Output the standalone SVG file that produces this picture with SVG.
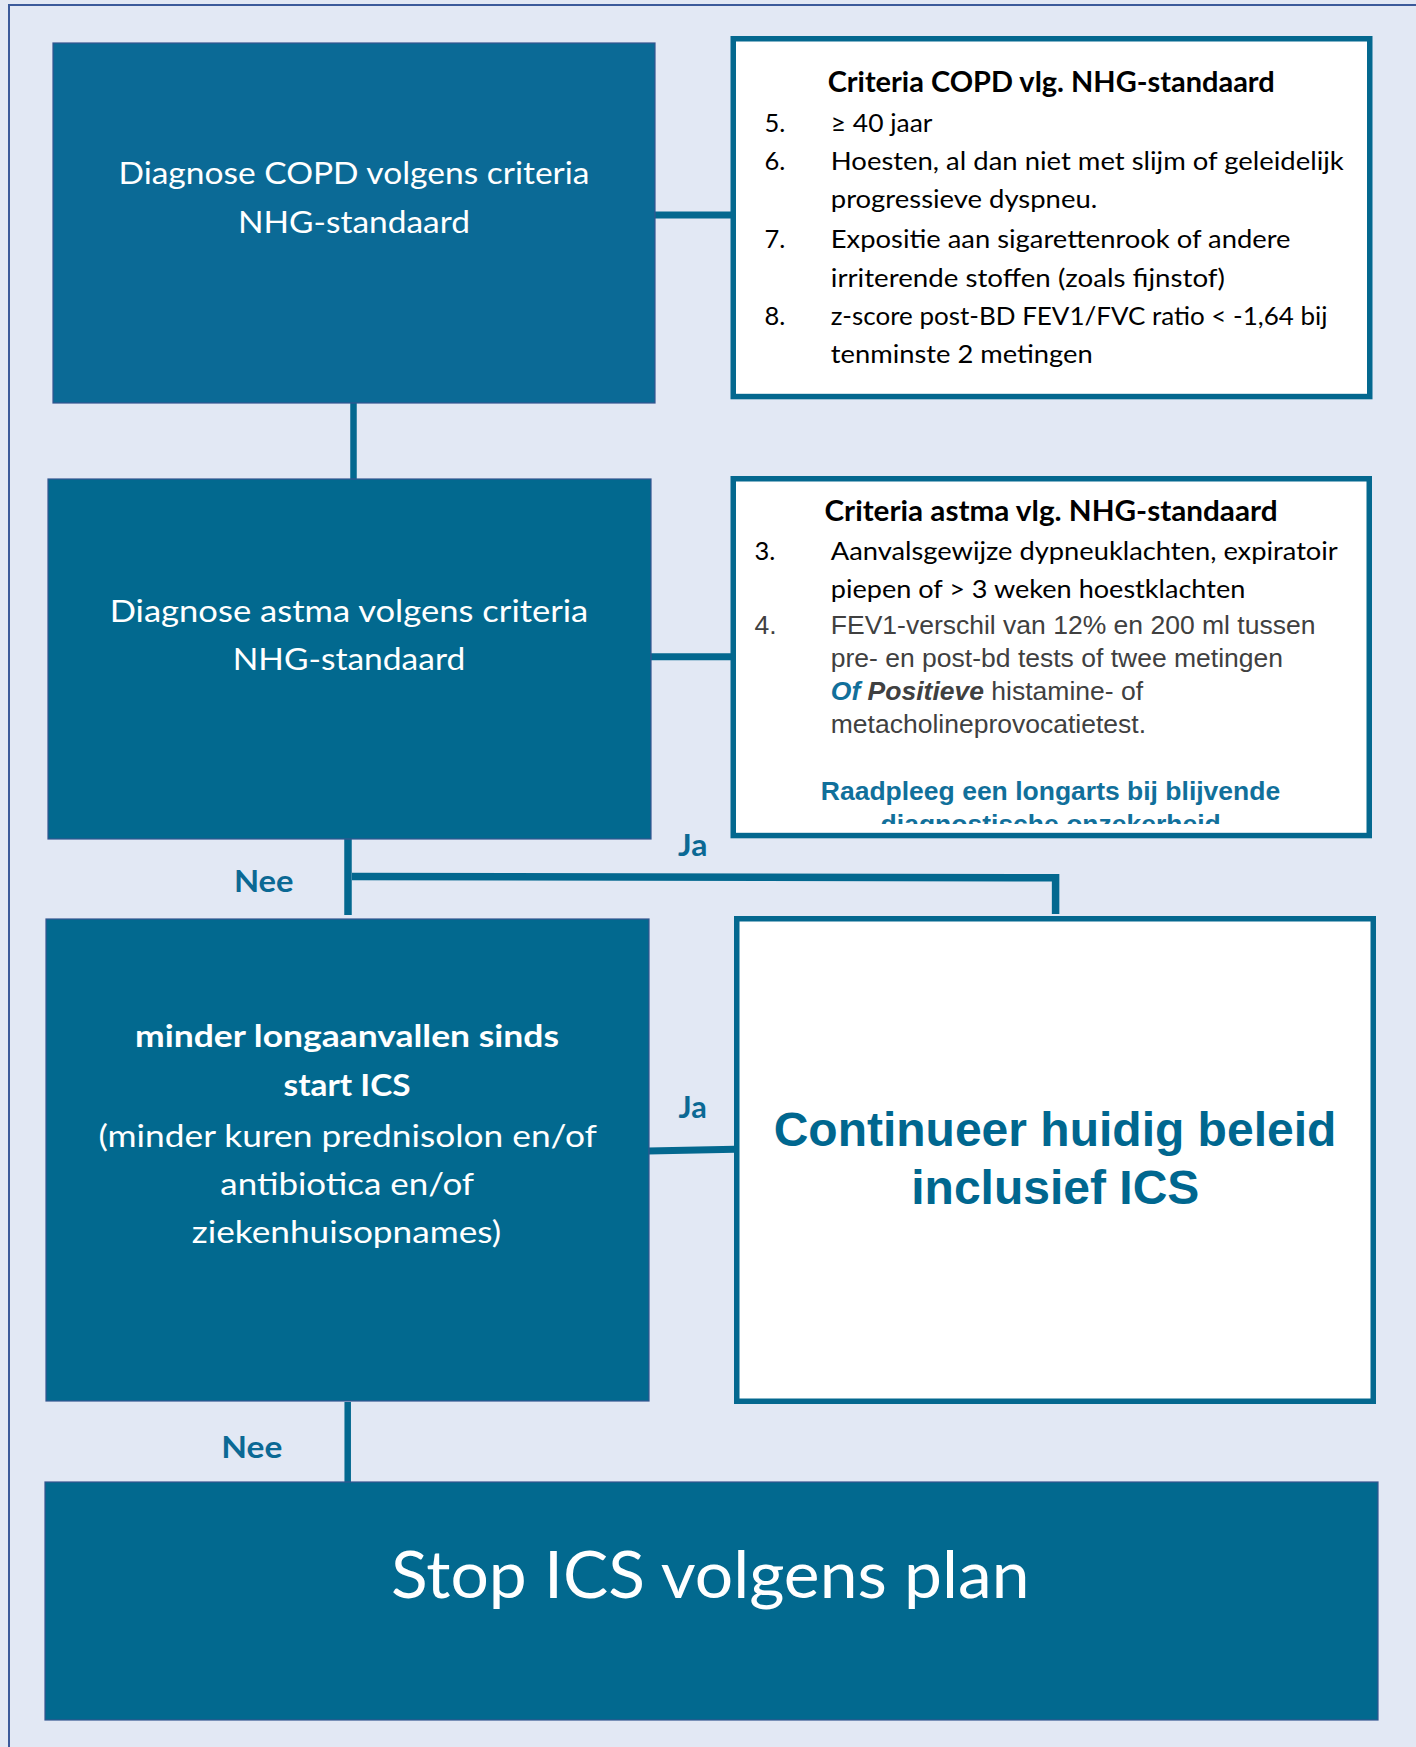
<svg xmlns="http://www.w3.org/2000/svg" width="1416" height="1747" viewBox="0 0 1416 1747">
<style>
.bg{fill:#e2e8f4}
.frame{fill:none;stroke:#3b5a9a;stroke-width:2}
.dark{fill:#02698f;stroke:#34558f;stroke-width:1.2}
.copd{fill:#0b6a96;stroke:#34558f;stroke-width:1.2}
.card{fill:#ffffff;stroke:#04688f;stroke-width:5.5}
.conn{fill:none;stroke:#03688f;stroke-linecap:butt;stroke-linejoin:miter}
.wt{font-family:Lato,"Open Sans","DejaVu Sans",sans-serif;font-size:30px;fill:#ffffff}
.wtb{font-family:Lato,"Open Sans","DejaVu Sans",sans-serif;font-size:30px;font-weight:bold;fill:#ffffff}
.ttl{font-family:Lato,"Open Sans","DejaVu Sans",sans-serif;font-size:28px;font-weight:bold;fill:#000000}
.itm{font-family:Lato,"Open Sans","DejaVu Sans",sans-serif;font-size:25.5px;fill:#000000}
.ar{font-family:"Liberation Sans",Arial,sans-serif;font-size:26.5px;fill:#404040}
.arb{font-family:"Liberation Sans",Arial,sans-serif;font-size:26.5px;font-weight:bold;fill:#11709b}
.lbl{font-family:Lato,"Open Sans","DejaVu Sans",sans-serif;font-size:30px;font-weight:bold;fill:#0b6994}
.big{font-family:"Liberation Sans",Arial,sans-serif;font-size:48px;font-weight:bold;fill:#00678f}
.stop{font-family:Lato,"Open Sans","DejaVu Sans",sans-serif;font-size:65px;fill:#ffffff}
</style>
<defs>
<clipPath id="clipLast"><rect x="736" y="770" width="630" height="54"/></clipPath>
</defs>
<rect class="bg" x="0" y="0" width="1416" height="1747"/>
<path class="frame" d="M9,1747 V5 H1416"/>

<g id="connectors">
<line class="conn" x1="654" y1="215" x2="732" y2="215" stroke-width="7"/>
<line class="conn" x1="353.5" y1="402" x2="353.5" y2="480" stroke-width="6.5"/>
<line class="conn" x1="650" y1="656.7" x2="732" y2="656.7" stroke-width="7"/>
<line class="conn" x1="348" y1="838" x2="348" y2="915" stroke-width="7.5"/>
<path class="conn" d="M352,876.5 L1055.6,877.8 L1055.6,914" stroke-width="7.5"/>
<line class="conn" x1="648" y1="1151" x2="735" y2="1149.3" stroke-width="7"/>
<line class="conn" x1="347.7" y1="1402" x2="347.7" y2="1483" stroke-width="6.5"/>
</g>

<g id="node-copd">
<rect class="copd" x="53" y="43" width="602" height="360"/>
<text class="wt" x="354" y="184" text-anchor="middle" textLength="471" lengthAdjust="spacingAndGlyphs">Diagnose COPD volgens criteria</text>
<text class="wt" x="354" y="233" text-anchor="middle" textLength="232" lengthAdjust="spacingAndGlyphs">NHG-standaard</text>
</g>

<g id="node-criteria-copd">
<rect class="card" x="733.25" y="38.75" width="636.5" height="357.8"/>
<text class="ttl" x="827.7" y="91.7" textLength="447" lengthAdjust="spacingAndGlyphs">Criteria COPD vlg. NHG-standaard</text>
<text class="itm" x="764.4" y="131.7">5.</text>
<text class="itm" x="830.8" y="131.7" textLength="101.6" lengthAdjust="spacingAndGlyphs">≥ 40 jaar</text>
<text class="itm" x="764.4" y="170">6.</text>
<text class="itm" x="830.8" y="170" textLength="513" lengthAdjust="spacingAndGlyphs">Hoesten, al dan niet met slijm of geleidelijk</text>
<text class="itm" x="830.8" y="208.3" textLength="266.4" lengthAdjust="spacingAndGlyphs">progressieve dyspneu.</text>
<text class="itm" x="764.4" y="248.3">7.</text>
<text class="itm" x="830.8" y="248.3" textLength="459.7" lengthAdjust="spacingAndGlyphs">Expositie aan sigarettenrook of andere</text>
<text class="itm" x="830.8" y="286.7" textLength="394.2" lengthAdjust="spacingAndGlyphs">irriterende stoffen (zoals fijnstof)</text>
<text class="itm" x="764.4" y="325">8.</text>
<text class="itm" x="830.8" y="325" textLength="496.7" lengthAdjust="spacingAndGlyphs">z-score post-BD FEV1/FVC ratio &lt; -1,64 bij</text>
<text class="itm" x="830.8" y="363.3" textLength="261.9" lengthAdjust="spacingAndGlyphs">tenminste 2 metingen</text>
</g>

<g id="node-astma">
<rect class="dark" x="48" y="479" width="603" height="360"/>
<text class="wt" x="349" y="621.7" text-anchor="middle" textLength="478.6" lengthAdjust="spacingAndGlyphs">Diagnose astma volgens criteria</text>
<text class="wt" x="349" y="670" text-anchor="middle" textLength="232.5" lengthAdjust="spacingAndGlyphs">NHG-standaard</text>
</g>

<g id="node-criteria-astma">
<rect class="card" x="733.25" y="478.75" width="636" height="356.8"/>
<text class="ttl" x="824.5" y="521" textLength="453" lengthAdjust="spacingAndGlyphs">Criteria astma vlg. NHG-standaard</text>
<text class="itm" x="754.5" y="560">3.</text>
<text class="itm" x="830.8" y="560" textLength="507" lengthAdjust="spacingAndGlyphs">Aanvalsgewijze dypneuklachten, expiratoir</text>
<text class="itm" x="830.8" y="598.3" textLength="414.5" lengthAdjust="spacingAndGlyphs">piepen of &gt; 3 weken hoestklachten</text>
<text class="ar" x="754.5" y="634.3">4.</text>
<text class="ar" x="830.8" y="634">FEV1-verschil van 12% en 200 ml tussen</text>
<text class="ar" x="830.8" y="667.3">pre- en post-bd tests of twee metingen</text>
<text class="ar" x="830.8" y="700"><tspan font-weight="bold" font-style="italic" fill="#11709b">Of</tspan><tspan font-weight="bold" font-style="italic"> Positieve</tspan> histamine- of</text>
<text class="ar" x="830.8" y="732.7">metacholineprovocatietest.</text>
<text class="arb" x="1050.5" y="800" text-anchor="middle">Raadpleeg een longarts bij blijvende</text>
<text class="arb" x="1050.7" y="832.5" text-anchor="middle" clip-path="url(#clipLast)">diagnostische onzekerheid</text>
</g>

<g id="node-minder">
<rect class="dark" x="46" y="919" width="603" height="482"/>
<text class="wtb" x="347" y="1046.7" text-anchor="middle" textLength="424" lengthAdjust="spacingAndGlyphs">minder longaanvallen sinds</text>
<text class="wtb" x="347" y="1096" text-anchor="middle" textLength="127" lengthAdjust="spacingAndGlyphs">start ICS</text>
<text class="wt" x="347.7" y="1146.7" text-anchor="middle" textLength="498.5" lengthAdjust="spacingAndGlyphs">(minder kuren prednisolon en/of</text>
<text class="wt" x="347.2" y="1195" text-anchor="middle" textLength="253.8" lengthAdjust="spacingAndGlyphs">antibiotica en/of</text>
<text class="wt" x="346.5" y="1243.3" text-anchor="middle" textLength="309.3" lengthAdjust="spacingAndGlyphs">ziekenhuisopnames)</text>
</g>

<g id="node-continueer">
<rect class="card" x="736.75" y="918.75" width="636.5" height="482.5"/>
<text class="big" x="1055" y="1146" text-anchor="middle">Continueer huidig beleid</text>
<text class="big" x="1055.3" y="1204.3" text-anchor="middle">inclusief ICS</text>
</g>

<g id="node-stop">
<rect class="dark" x="45" y="1482" width="1333" height="238"/>
<text class="stop" x="710.3" y="1598.3" text-anchor="middle" textLength="638.5" lengthAdjust="spacingAndGlyphs">Stop ICS volgens plan</text>
</g>

<g id="labels">
<text class="lbl" x="233.9" y="892.3" textLength="59.6" lengthAdjust="spacingAndGlyphs">Nee</text>
<text class="lbl" x="678.1" y="856" textLength="29.3" lengthAdjust="spacingAndGlyphs">Ja</text>
<text class="lbl" x="678.6" y="1118.3" textLength="28.2" lengthAdjust="spacingAndGlyphs">Ja</text>
<text class="lbl" x="221.3" y="1457.7" textLength="61" lengthAdjust="spacingAndGlyphs">Nee</text>
</g>
</svg>
